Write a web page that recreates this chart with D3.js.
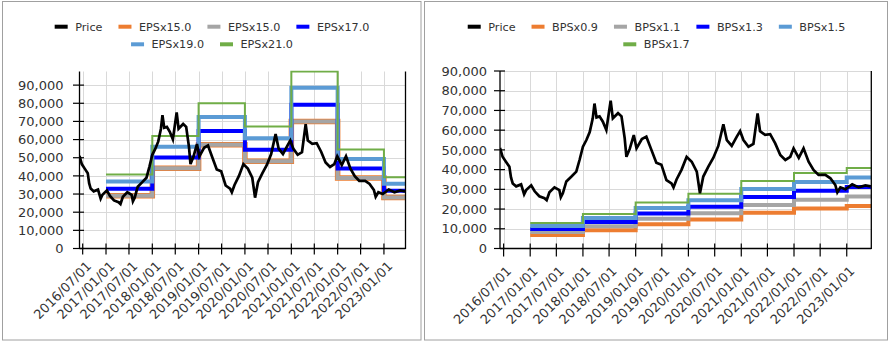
<!DOCTYPE html>
<html><head><meta charset="utf-8">
<script src="https://cdn.jsdelivr.net/npm/d3@7"></script>
<style>
body{margin:0;background:#fff}
svg{display:block}
text{font-family:"DejaVu Sans",sans-serif;fill:#333}
</style>
</head><body>
<svg id="c" width="890" height="343"></svg>
<script>
// ---------- data ----------
const priceDates = ["2016-06-06","2016-06-24","2016-07-17","2016-08-10","2016-08-21","2016-09-02","2016-09-26","2016-10-30","2016-11-20","2016-12-04","2017-01-08","2017-02-01","2017-03-05","2017-04-10","2017-04-25","2017-05-14","2017-06-18","2017-07-22","2017-08-01","2017-08-15","2017-09-08","2017-10-12","2017-11-16","2017-12-09","2018-01-01","2018-01-25","2018-02-17","2018-03-10","2018-03-22","2018-04-05","2018-04-26","2018-05-19","2018-06-12","2018-07-12","2018-07-27","2018-09-01","2018-09-25","2018-10-17","2018-10-29","2018-11-21","2018-12-19","2019-01-07","2019-02-13","2019-03-16","2019-04-20","2019-05-24","2019-06-28","2019-08-02","2019-09-06","2019-09-20","2019-10-11","2019-11-15","2019-12-20","2020-01-24","2020-02-28","2020-03-21","2020-04-13","2020-05-18","2020-06-22","2020-07-26","2020-08-30","2020-09-23","2020-10-27","2020-12-01","2020-12-24","2021-01-16","2021-02-20","2021-03-26","2021-04-24","2021-05-11","2021-06-15","2021-07-20","2021-08-24","2021-09-28","2021-11-02","2021-12-06","2021-12-29","2022-02-03","2022-03-08","2022-04-12","2022-05-16","2022-06-20","2022-08-06","2022-09-10","2022-10-14","2022-10-28","2022-11-18","2022-12-23","2023-02-08","2023-03-25","2023-05-10","2023-06-16"];
const priceValues = [51000,46500,44000,41500,36000,33000,31500,32500,27500,29600,32000,29000,26500,25500,24500,28500,31000,29600,26000,28000,34000,36400,39000,45000,51600,55000,59000,66000,73500,66500,67000,64300,60100,75000,66000,68600,67000,56000,46500,50500,57500,50800,55500,56700,50000,43500,42500,34700,33000,31000,35000,40000,46500,44000,39000,28000,36500,41500,46000,52000,63000,55000,52000,56700,59500,55000,51600,53000,68500,59500,57600,58000,53300,47400,44900,46500,50800,46000,50800,44000,39800,37300,37300,35600,32200,28500,31000,30000,32500,31000,32000,31500];

const stepDates = ["2017-01-01","2018-01-01","2019-01-01","2020-01-01","2021-01-01","2022-01-01","2023-01-01"];
const endDate = "2023-06-20";
const startDate = "2016-06-06";

const epsNames = ["EPSx15.0","EPSx15.0","EPSx17.0","EPSx19.0","EPSx21.0"];
const eps15orange = [29100,44250,57150,48000,69900,38900,28100];
const eps15gray   = [29100,44250,57150,48000,69900,38900,28100];
const eps17 = [32980,50150,64770,54400,79200,44100,31850];
const eps19 = [36860,56050,72390,60800,88500,49300,35600];
const eps21 = [40740,61950,80010,67200,97500,54500,39300];

const bpsNames = ["BPSx0.9","BPSx1.1","BPSx1.3","BPSx1.5","BPSx1.7"];
const bps09 = [6840,9270,12330,14670,18090,20250,21600];
const bps11 = [8360,11330,15070,17930,22110,24750,26400];
const bps13 = [9880,13390,17810,21190,26130,29250,31200];
const bps15 = [11400,15450,20550,24450,30150,33750,36000];
const bps17 = [12920,17510,23290,27710,34170,38250,40800];

const xTickLabels = ["2016/07/01","2017/01/01","2017/07/01","2018/01/01","2018/07/01","2019/01/01","2019/07/01","2020/01/01","2020/07/01","2021/01/01","2021/07/01","2022/01/01","2022/07/01","2023/01/01"];
const yTickValues = [0,10000,20000,30000,40000,50000,60000,70000,80000,90000];

const colors = {price:"#000000", orange:"#ED7D31", gray:"#A5A5A5", blue:"#0000FF", lblue:"#5B9BD5", green:"#70AD47"};

// ---------- helpers ----------
const parse = d3.timeParse("%Y-%m-%d");
const parseTick = d3.timeParse("%Y/%m/%d");
const priceData = priceDates.map((d,i)=>({d:parse(d), v:priceValues[i]}));
const svg = d3.select("#c");
const fmt = v => v===0 ? "0" : d3.format(",")(v);

function chart(cfg){
  const g = svg.append("g");
  g.append("rect").attr("x",cfg.frame[0]).attr("y",cfg.frame[1]).attr("width",cfg.frame[2]).attr("height",cfg.frame[3])
    .attr("fill","#fff").attr("stroke","#a0a0a0").attr("stroke-width",1);
  const x = d3.scaleTime().domain([parse(startDate), parse(endDate)]).range([cfg.x0, cfg.x1]);
  const y = d3.scaleLinear().domain([0, cfg.ymax]).range([cfg.y0, cfg.y1]);
  const tickDates = xTickLabels.map(t=>parseTick(t));
  // gridlines
  g.append("g").selectAll("line").data(yTickValues.filter(v=>v>0)).join("line")
    .attr("x1",cfg.x0).attr("x2",cfg.x1).attr("y1",d=>Math.round(y(d))+0.5).attr("y2",d=>Math.round(y(d))+0.5)
    .attr("stroke","#d9d9d9").attr("stroke-width",1);
  g.append("g").selectAll("line").data(tickDates).join("line")
    .attr("y1",cfg.y0).attr("y2",cfg.y1).attr("x1",d=>Math.round(x(d))+0.5).attr("x2",d=>Math.round(x(d))+0.5)
    .attr("stroke","#d9d9d9").attr("stroke-width",1);
  const cid = "clip"+cfg.id;
  g.append("clipPath").attr("id",cid).append("rect").attr("x",cfg.x0).attr("y",cfg.y1-1).attr("width",cfg.x1-cfg.x0).attr("height",cfg.y0-cfg.y1+1);
  const plot = g.append("g").attr("clip-path","url(#"+cid+")");
  const step = d3.line().x(d=>x(d.d)).y(d=>y(d.v)).curve(d3.curveStepAfter);
  cfg.series.forEach(s=>{
    const pts = stepDates.map((d,i)=>({d:parse(d), v:s.values[i]}));
    pts.push({d:parse(endDate), v:s.values[s.values.length-1]});
    plot.append("path").attr("d",step(pts)).attr("fill","none").attr("stroke",s.color).attr("stroke-width",s.w);
  });
  const line = d3.line().x(d=>x(d.d)).y(d=>y(d.v));
  plot.append("path").attr("d",line(priceData)).attr("fill","none").attr("stroke","#000").attr("stroke-width",2.7).attr("stroke-linejoin","miter");
  // axes
  g.append("line").attr("x1",cfg.x0).attr("x2",cfg.x0).attr("y1",cfg.y1).attr("y2",cfg.y0+0.5).attr("stroke","#000").attr("stroke-width",1.3);
  g.append("line").attr("x1",cfg.x1).attr("x2",cfg.x1).attr("y1",cfg.y1).attr("y2",cfg.y0+0.5).attr("stroke","#000").attr("stroke-width",1.3);
  g.append("line").attr("x1",cfg.x0).attr("x2",cfg.x1).attr("y1",cfg.y0).attr("y2",cfg.y0).attr("stroke","#000").attr("stroke-width",1.3);
  g.append("g").selectAll("line").data(yTickValues).join("line")
    .attr("x1",cfg.x0+cfg.ytick[0]).attr("x2",cfg.x0+cfg.ytick[1]).attr("y1",d=>y(d)).attr("y2",d=>y(d))
    .attr("stroke","#000").attr("stroke-width",1.2);
  g.append("g").selectAll("text").data(yTickValues).join("text")
    .attr("x",cfg.ylabX).attr("y",d=>y(d)).attr("dy","0.36em").attr("text-anchor","end")
    .style("font-size","13px").text(fmt);
  g.append("g").selectAll("line").data(tickDates).join("line")
    .attr("x1",d=>x(d)).attr("x2",d=>x(d)).attr("y1",cfg.y0+cfg.xtick[0]).attr("y2",cfg.y0+cfg.xtick[1])
    .attr("stroke","#000").attr("stroke-width",1.2);
  g.append("g").selectAll("text").data(tickDates).join("text")
    .attr("transform",(d)=>`translate(${x(d)+cfg.xlab[0]},${cfg.y0+cfg.xlab[1]}) rotate(-45)`)
    .attr("text-anchor","end").style("font-size","13px")
    .text((d,i)=>xTickLabels[i]);
  // legend
  let idx = 0;
  cfg.legendRows.forEach((n,ri)=>{
    const items = cfg.legend.slice(idx, idx+n); idx += n;
    const rg = g.append("g");
    let cx = 0;
    items.forEach(it=>{
      rg.append("line").attr("x1",cx).attr("x2",cx+13).attr("y1",0).attr("y2",0)
        .attr("stroke",it.color).attr("stroke-width",4);
      const t = rg.append("text").attr("x",cx+20.5).attr("y",0).attr("dy","0.36em").style("font-size","11.2px").text(it.name);
      cx += 20.5 + t.node().getComputedTextLength() + 16;
    });
    const w = cx - 16;
    rg.attr("transform",`translate(${cfg.legendCx - w/2},${cfg.legendY[ri]})`);
  });
}

chart({
  id:"L", frame:[2.5,1.5,418.5,338.5],
  x0:79.5, x1:405.5, y0:248.5, y1:71.5, ymax:97500,
  ytick:[-6.5,4.5], ylabX:63.5, xtick:[-5,6], xlab:[9.5,18.5],
  series:[
    {values:eps15orange,color:colors.orange,w:5.5},
    {values:eps15gray,color:colors.gray,w:4},
    {values:eps17,color:colors.blue,w:4},
    {values:eps19,color:colors.lblue,w:4},
    {values:eps21,color:colors.green,w:2}
  ],
  legend:[
    {name:"Price",color:colors.price},
    {name:epsNames[0],color:colors.orange},
    {name:epsNames[1],color:colors.gray},
    {name:epsNames[2],color:colors.blue},
    {name:epsNames[3],color:colors.lblue},
    {name:epsNames[4],color:colors.green}
  ],
  legendRows:[4,2], legendCx:212, legendY:[26.7,44.3]
});

chart({
  id:"R", frame:[424.5,1.5,463,338.5],
  x0:500, x1:871.3, y0:248.5, y1:71, ymax:90000,
  ytick:[-6,5], ylabX:487, xtick:[-5,8], xlab:[8.5,23.5],
  series:[
    {values:bps09,color:colors.orange,w:4},
    {values:bps11,color:colors.gray,w:4},
    {values:bps13,color:colors.blue,w:4},
    {values:bps15,color:colors.lblue,w:4},
    {values:bps17,color:colors.green,w:2}
  ],
  legend:[
    {name:"Price",color:colors.price},
    {name:bpsNames[0],color:colors.orange},
    {name:bpsNames[1],color:colors.gray},
    {name:bpsNames[2],color:colors.blue},
    {name:bpsNames[3],color:colors.lblue},
    {name:bpsNames[4],color:colors.green}
  ],
  legendRows:[5,1], legendCx:656.5, legendY:[26.7,44.3]
});
</script>
</body></html>
